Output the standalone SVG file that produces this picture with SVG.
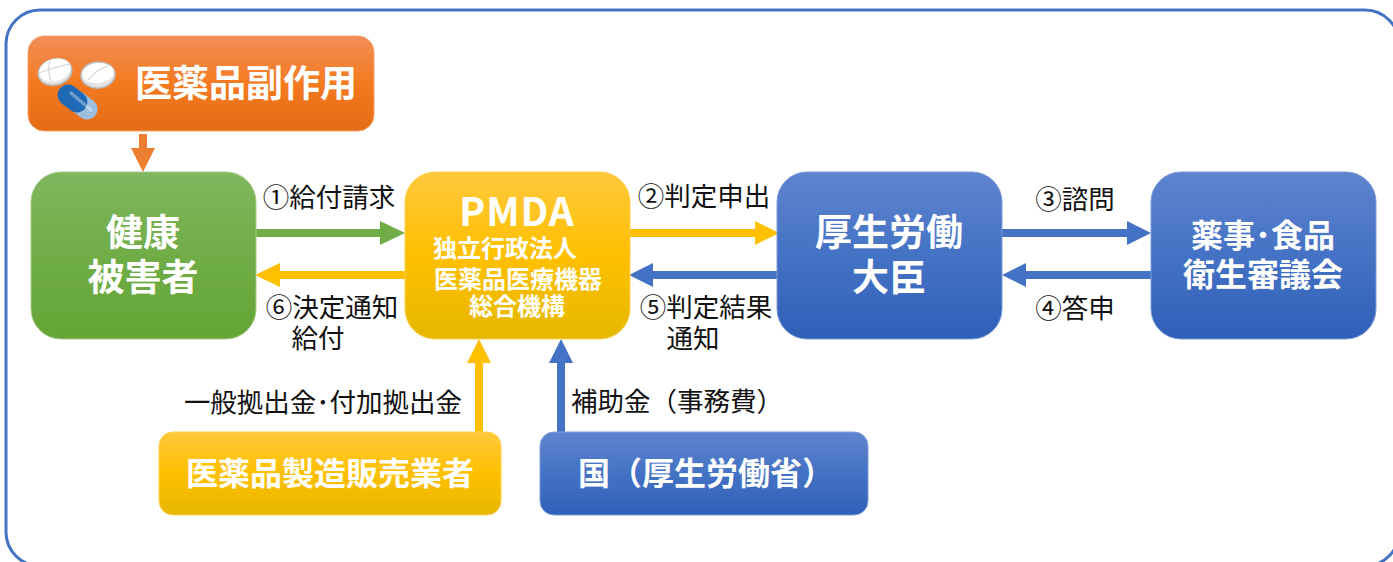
<svg xmlns="http://www.w3.org/2000/svg" width="1393" height="562" viewBox="0 0 1393 562">
<defs>
<linearGradient id="gO" x1="0" y1="0" x2="0" y2="1"><stop offset="0" stop-color="#f28e57"/><stop offset=".5" stop-color="#f47a20"/><stop offset="1" stop-color="#e46c15"/></linearGradient>
<linearGradient id="gG" x1="0" y1="0" x2="0" y2="1"><stop offset="0" stop-color="#81b65f"/><stop offset=".5" stop-color="#70ad47"/><stop offset="1" stop-color="#65a536"/></linearGradient>
<linearGradient id="gY" x1="0" y1="0" x2="0" y2="1"><stop offset="0" stop-color="#ffc83d"/><stop offset=".5" stop-color="#ffc000"/><stop offset="1" stop-color="#e5b700"/></linearGradient>
<linearGradient id="gB" x1="0" y1="0" x2="0" y2="1"><stop offset="0" stop-color="#5f84cf"/><stop offset=".5" stop-color="#4472c4"/><stop offset="1" stop-color="#2f60b8"/></linearGradient>
</defs>
<style>
text{font-family:"Noto Sans CJK JP","Noto Sans",sans-serif;text-anchor:middle}
.w{fill:#fff;font-weight:700}
.l{fill:#111;font-size:26.5px}
</style>
<rect x="6" y="10" width="1393" height="556" rx="34" fill="#fff" stroke="#4472c4" stroke-width="3"/>
<g id="connectors">
<path d="M143 134v22" stroke="#ed7d31" stroke-width="8"/><path d="M131 148h24l-12 24z" fill="#ed7d31"/>
<path d="M256 233h128" stroke="#70ad47" stroke-width="8"/><path d="M380 221l25 12-25 12z" fill="#70ad47"/>
<path d="M405 275H280" stroke="#ffc000" stroke-width="8"/><path d="M280 263l-25 12 25 12z" fill="#ffc000"/>
<path d="M630 233h128" stroke="#ffc000" stroke-width="8"/><path d="M755 221l24 12-24 12z" fill="#ffc000"/>
<path d="M777 275H650" stroke="#4472c4" stroke-width="8"/><path d="M653 263l-24 12 24 12z" fill="#4472c4"/>
<path d="M1002 233h128" stroke="#4472c4" stroke-width="8"/><path d="M1127 221l24 12-24 12z" fill="#4472c4"/>
<path d="M1151 275H1025" stroke="#4472c4" stroke-width="8"/><path d="M1026 263l-24 12 24 12z" fill="#4472c4"/>
<path d="M479 432V362" stroke="#ffc000" stroke-width="8"/><path d="M467 363l12-24 12 24z" fill="#ffc000"/>
<path d="M561 432V362" stroke="#4472c4" stroke-width="8"/><path d="M549 363l12-24 12 24z" fill="#4472c4"/>
</g>
<g id="side-effect">
<rect x="28" y="36" width="346" height="95" rx="16" fill="url(#gO)" stroke="#f4a26f"/>
<text class="w" x="246" y="97" font-size="37">医薬品副作用</text>
<g id="pills">
<ellipse cx="55" cy="72" rx="17" ry="13" fill="#e4e4e4" stroke="#b8bdbf" stroke-width="1.5" transform="rotate(-15 55 72)"/>
<ellipse cx="55" cy="70" rx="16" ry="11" fill="#fff" transform="rotate(-15 55 70)"/>
<path d="M39 73Q52 68 70 64M50 61Q47 70 51 81" fill="none" stroke="#cfd3d4" stroke-width="1.2"/>
<ellipse cx="98" cy="75" rx="17" ry="13" fill="#e4e4e4" stroke="#b8bdbf" stroke-width="1.5" transform="rotate(-5 98 75)"/>
<ellipse cx="98" cy="73" rx="16" ry="10" fill="#fff" transform="rotate(-5 98 73)"/>
<path d="M88 80Q96 70 108 66" fill="none" stroke="#cfd3d4" stroke-width="1.2"/>
<path d="M78 102L87 109" stroke="#9dbfdf" stroke-width="21" stroke-linecap="round"/>
<path d="M68 95L77 102" stroke="#2069b4" stroke-width="21" stroke-linecap="round"/>
<path d="M71 93L91 110" stroke="#fff" stroke-opacity=".35" stroke-width="3.5" stroke-linecap="round"/>
</g>
</g>
<g id="victim">
<rect x="31" y="172" width="225" height="167" rx="30" fill="url(#gG)" stroke="#a5cd8b"/>
<text class="w" x="143" y="246" font-size="37">健康</text>
<text class="w" x="143" y="291" font-size="37">被害者</text>
</g>
<g id="pmda">
<rect x="405" y="172" width="225" height="167" rx="30" fill="url(#gY)" stroke="#ffd04f"/>
<text class="w" x="517" y="226" font-size="39" font-family="Noto Sans" letter-spacing="1">PMDA</text>
<text class="w" x="505" y="257" font-size="24">独立行政法人</text>
<text class="w" x="518" y="288" font-size="24">医薬品医療機器</text>
<text class="w" x="517" y="315" font-size="24">総合機構</text>
</g>
<g id="minister">
<rect x="777" y="172" width="225" height="167" rx="30" fill="url(#gB)" stroke="#7e9bd6"/>
<text class="w" x="889" y="246" font-size="37">厚生労働</text>
<text class="w" x="889" y="291" font-size="37">大臣</text>
</g>
<g id="council">
<rect x="1151" y="172" width="225" height="167" rx="30" fill="url(#gB)" stroke="#7e9bd6"/>
<text class="w" x="1263" y="247" font-size="32">薬事･食品</text>
<text class="w" x="1263" y="286" font-size="32">衛生審議会</text>
</g>
<g id="manufacturer">
<rect x="159" y="432" width="342" height="83" rx="14" fill="url(#gY)" stroke="#ffd04f"/>
<text class="w" x="330" y="485" font-size="32">医薬品製造販売業者</text>
</g>
<g id="state">
<rect x="540" y="432" width="328" height="83" rx="14" fill="url(#gB)" stroke="#7e9bd6"/>
<text class="w" x="706" y="485" font-size="32">国（厚生労働省）</text>
</g>
<g id="labels">
<text class="l" x="329" y="207">①給付請求</text>
<text class="l" x="332" y="317">⑥決定通知</text>
<text class="l" x="318" y="348">給付</text>
<text class="l" x="704" y="206">②判定申出</text>
<text class="l" x="706" y="317">⑤判定結果</text>
<text class="l" x="693" y="348">通知</text>
<text class="l" x="1075" y="209">③諮問</text>
<text class="l" x="1075" y="318">④答申</text>
<text class="l" x="323" y="412">一般拠出金･付加拠出金</text>
<text class="l" x="677" y="411">補助金（事務費）</text>
</g>
</svg>
